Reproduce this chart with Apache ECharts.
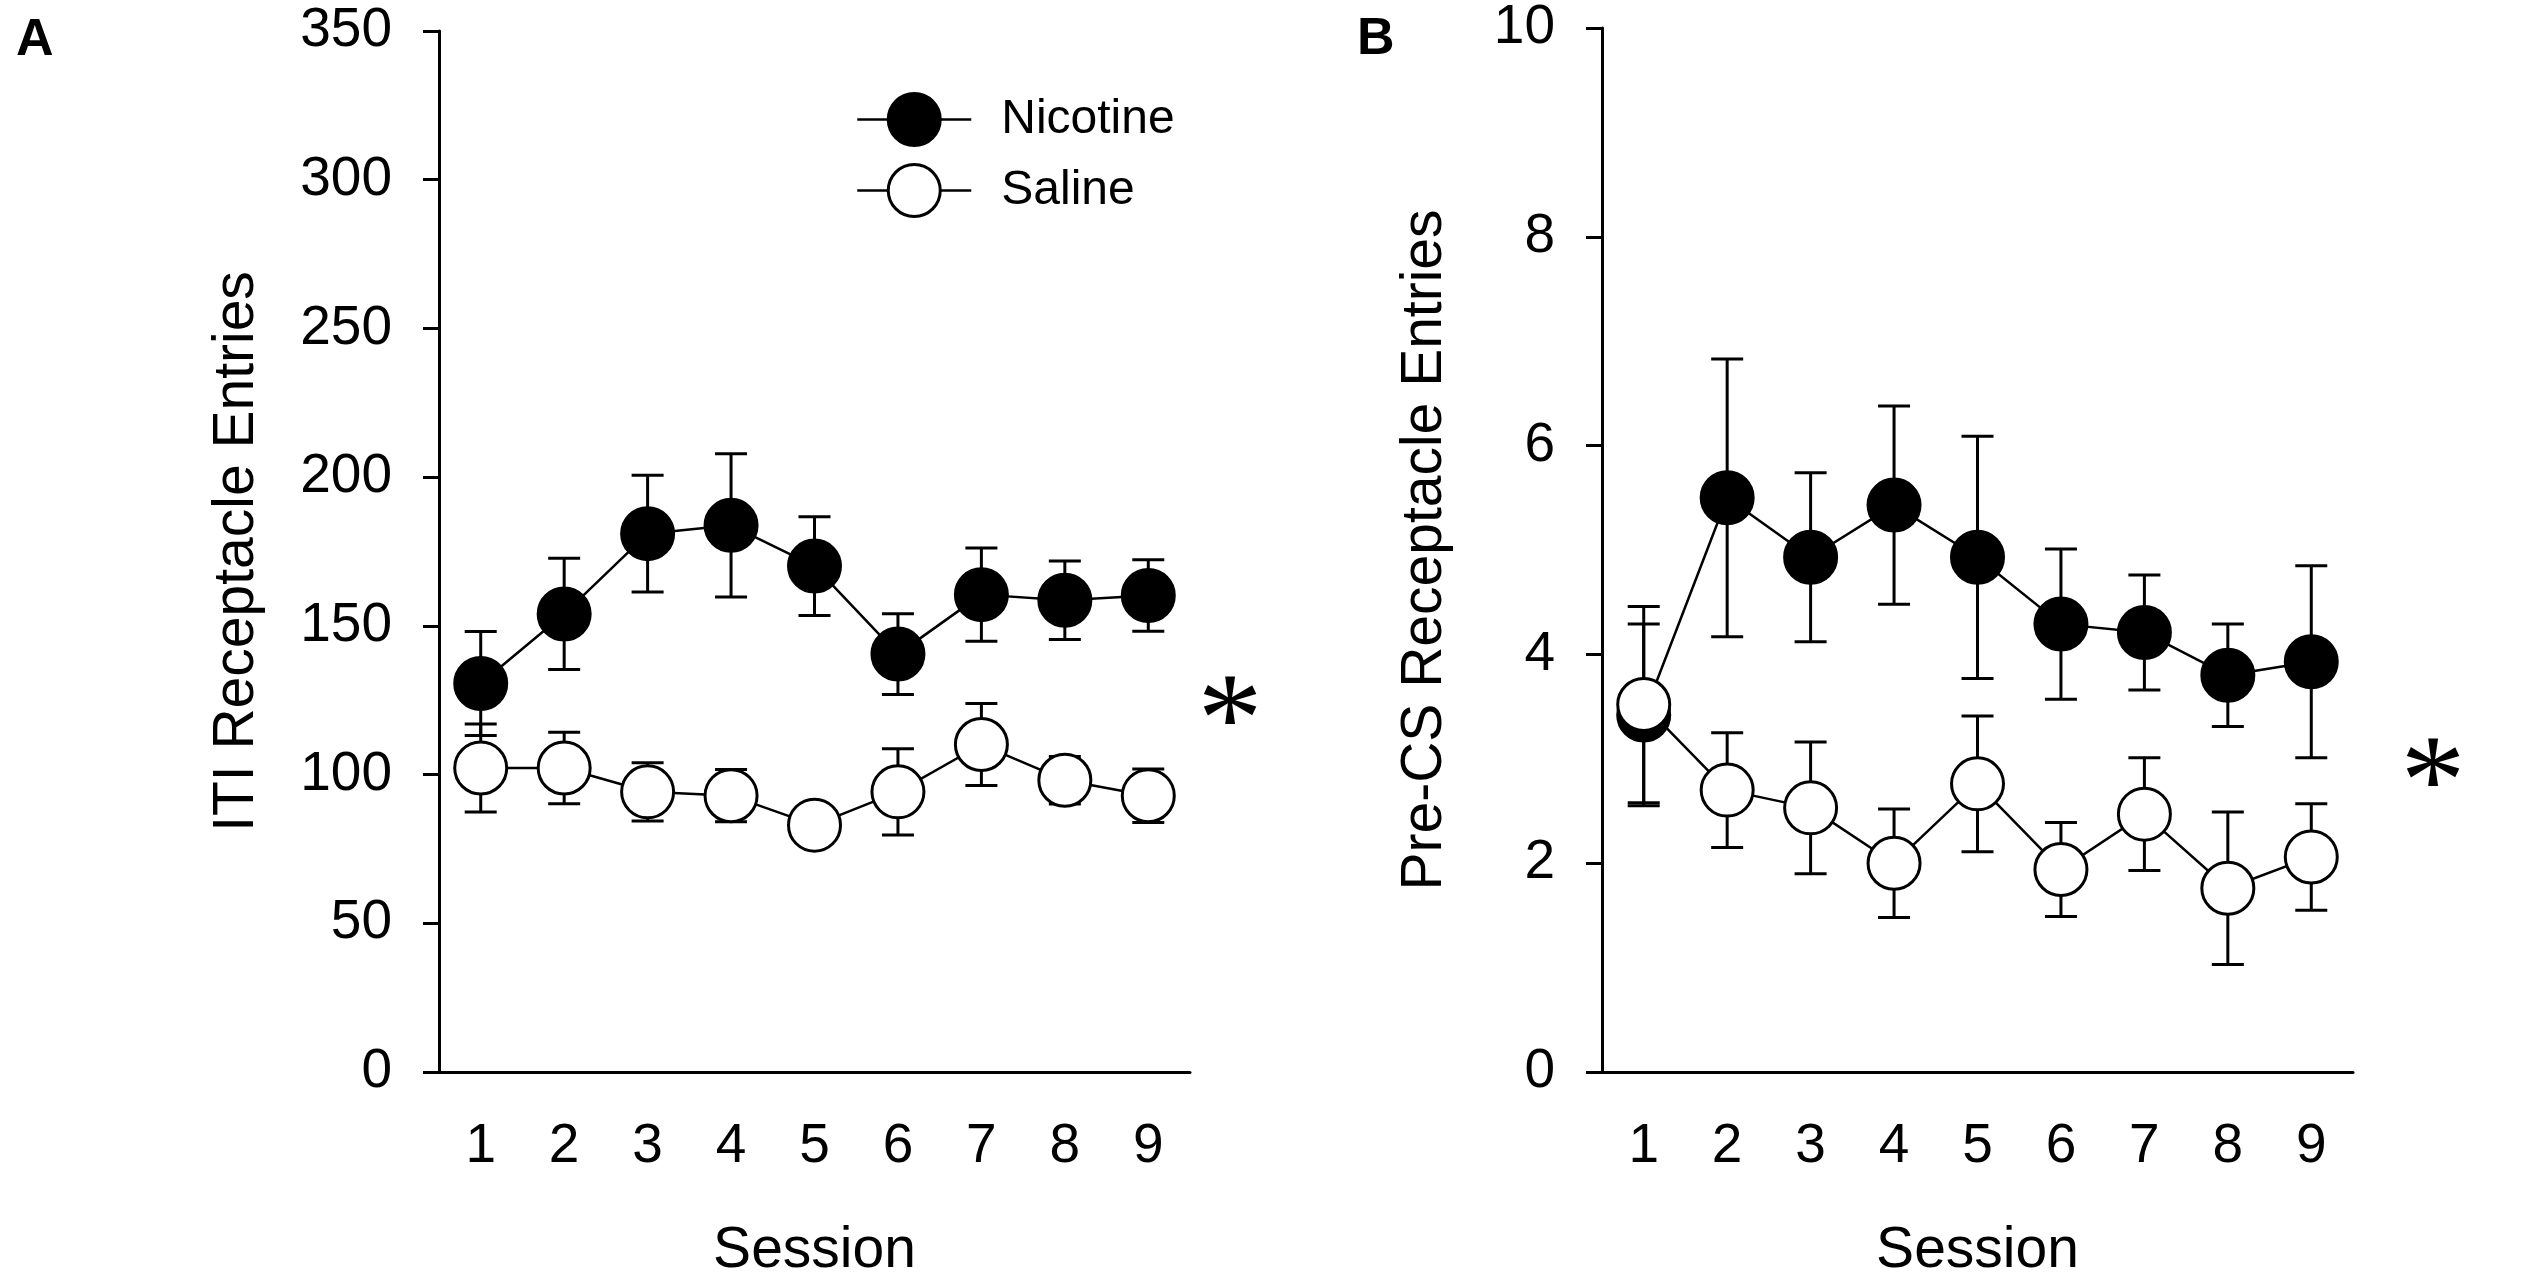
<!DOCTYPE html>
<html>
<head>
<meta charset="utf-8">
<script src="https://cdn.jsdelivr.net/npm/echarts@6/dist/echarts.min.js"></script>
<style>
  html, body { margin: 0; padding: 0; background: #fff; }
  #chart { width: 2533px; height: 1285px; }
</style>
</head>
<body>
<div id="chart"></div>
<script>
// Sessions on the x axis (both panels)
const sessions = ['1', '2', '3', '4', '5', '6', '7', '8', '9'];

// Panel A: ITI receptacle entries (mean and SEM)
const itiNicotineMean = [130.6, 154.0, 181.0, 183.8, 170.1, 140.5, 160.5, 158.6, 160.2];
const itiNicotineSem = [17.5, 18.7, 19.6, 24.1, 16.6, 13.6, 15.7, 13.2, 12.0];
const itiSalineMean = [102.2, 102.2, 94.2, 92.9, 83.0, 94.2, 110.1, 98.1, 92.9];
const itiSalineSem = [14.8, 12.0, 9.8, 8.8, 5.0, 14.5, 13.8, 8.0, 9.0];

// Panel B: Pre-CS receptacle entries (mean and SEM)
const preNicotineMean = [3.42, 5.50, 4.93, 5.43, 4.93, 4.29, 4.21, 3.80, 3.93];
const preNicotineSem = [0.87, 1.33, 0.81, 0.95, 1.16, 0.72, 0.55, 0.49, 0.92];
const preSalineMean = [3.52, 2.70, 2.53, 2.00, 2.76, 1.94, 2.47, 1.76, 2.06];
const preSalineSem = [0.94, 0.55, 0.63, 0.52, 0.65, 0.45, 0.54, 0.73, 0.51];

// Axis ticks
const itiTicks = { min: 0, max: 350, interval: 50 };
const preTicks = { min: 0, max: 10, interval: 2 };

const FONT = "'Liberation Sans', Arial, sans-serif";
const SERIF = "'Liberation Serif', 'Times New Roman', serif";

function errorData(mean, sem) {
    return mean.map((m, i) => [i, m - sem[i], m + sem[i]]);
}

function renderErrorBar(params, api) {
    const idx = api.value(0);
    const lo = api.coord([idx, api.value(1)]);
    const hi = api.coord([idx, api.value(2)]);
    const half = 16;
    const style = { stroke: '#000', lineWidth: 3 };
    return {
        type: 'group',
        children: [
            { type: 'line', shape: { x1: lo[0], y1: lo[1], x2: hi[0], y2: hi[1] }, style },
            { type: 'line', shape: { x1: lo[0] - half, y1: lo[1], x2: lo[0] + half, y2: lo[1] }, style },
            { type: 'line', shape: { x1: hi[0] - half, y1: hi[1], x2: hi[0] + half, y2: hi[1] }, style },
        ],
    };
}

function xAxis(gridIndex) {
    return {
        type: 'category',
        gridIndex,
        data: sessions,
        boundaryGap: true,
        name: 'Session',
        nameLocation: 'middle',
        nameGap: 151,
        nameTextStyle: { fontFamily: FONT, fontSize: 57, color: '#000' },
        axisLine: { lineStyle: { color: '#000', width: 3 } },
        axisTick: { alignWithLabel: true, length: 16, lineStyle: { color: '#000', width: 3 } },
        axisLabel: { margin: 47, fontFamily: FONT, fontSize: 55, color: '#000' },
        splitLine: { show: false },
    };
}

function yAxis(gridIndex, ticks, name, nameGap) {
    return {
        type: 'value',
        gridIndex,
        min: ticks.min,
        max: ticks.max,
        interval: ticks.interval,
        name,
        nameLocation: 'middle',
        nameGap,
        nameTextStyle: { fontFamily: FONT, fontSize: 57, color: '#000' },
        axisLine: { show: true, lineStyle: { color: '#000', width: 3 } },
        axisTick: { show: true, length: 16, lineStyle: { color: '#000', width: 3 } },
        axisLabel: { margin: 47, fontFamily: FONT, fontSize: 55, color: '#000' },
        splitLine: { show: false },
    };
}

const nicotineStyle = { color: '#000', borderColor: '#000', borderWidth: 3 };
const salineStyle = { color: '#fff', borderColor: '#000', borderWidth: 3 };

function lineSeries(name, data, axisIdx, itemStyle, z) {
    return {
        type: 'line',
        name,
        data,
        xAxisIndex: axisIdx,
        yAxisIndex: axisIdx,
        symbol: 'circle',
        symbolSize: 52,
        showAllSymbol: true,
        lineStyle: { color: '#000', width: 2.5 },
        itemStyle,
        z,
        emphasis: { disabled: true },
    };
}

function errorSeries(mean, sem, axisIdx) {
    return {
        type: 'custom',
        renderItem: renderErrorBar,
        data: errorData(mean, sem),
        xAxisIndex: axisIdx,
        yAxisIndex: axisIdx,
        encode: { x: 0, y: [1, 2] },
        z: 1,
        silent: true,
    };
}

const option = {
    animation: false,
    backgroundColor: '#fff',
    grid: [
        { left: 439, top: 31, width: 751, height: 1048 },
        { left: 1602, top: 28, width: 751, height: 1046 },
    ],
    xAxis: [xAxis(0), xAxis(1)],
    yAxis: [
        yAxis(0, itiTicks, 'ITI Receptacle Entries', 173),
        yAxis(1, preTicks, 'Pre-CS Receptacle Entries', 148),
    ],
    legend: {
        orient: 'vertical',
        left: 856,
        top: 92,
        padding: 0,
        itemWidth: 114,
        itemHeight: 65,
        itemGap: 16,
        textStyle: { fontFamily: FONT, fontSize: 48, color: '#000', padding: [0, 0, 0, 25] },
        data: [
            { name: 'Nicotine', itemStyle: nicotineStyle, lineStyle: { color: '#000', width: 2.5 } },
            { name: 'Saline', itemStyle: salineStyle, lineStyle: { color: '#000', width: 2.5 } },
        ],
    },
    series: [
        errorSeries(itiNicotineMean, itiNicotineSem, 0),
        errorSeries(itiSalineMean, itiSalineSem, 0),
        lineSeries('Nicotine', itiNicotineMean, 0, nicotineStyle, 2),
        lineSeries('Saline', itiSalineMean, 0, salineStyle, 3),
        errorSeries(preNicotineMean, preNicotineSem, 1),
        errorSeries(preSalineMean, preSalineSem, 1),
        lineSeries('Nicotine', preNicotineMean, 1, nicotineStyle, 2),
        lineSeries('Saline', preSalineMean, 1, salineStyle, 3),
    ],
    graphic: [
        { type: 'text', left: 16, top: 15, style: { text: 'A', fontFamily: FONT, fontSize: 52, fontWeight: 'bold', fill: '#000' } },
        { type: 'text', left: 1357, top: 14, style: { text: 'B', fontFamily: FONT, fontSize: 52, fontWeight: 'bold', fill: '#000' } },
        { type: 'text', x: 1230, y: 727, style: { text: '*', fontFamily: SERIF, fontSize: 130, fill: '#000', align: 'center', verticalAlign: 'middle' } },
        { type: 'text', x: 2433, y: 789, style: { text: '*', fontFamily: SERIF, fontSize: 130, fill: '#000', align: 'center', verticalAlign: 'middle' } },
    ],
};

const chart = echarts.init(document.getElementById('chart'));
chart.setOption(option);
</script>
</body>
</html>
